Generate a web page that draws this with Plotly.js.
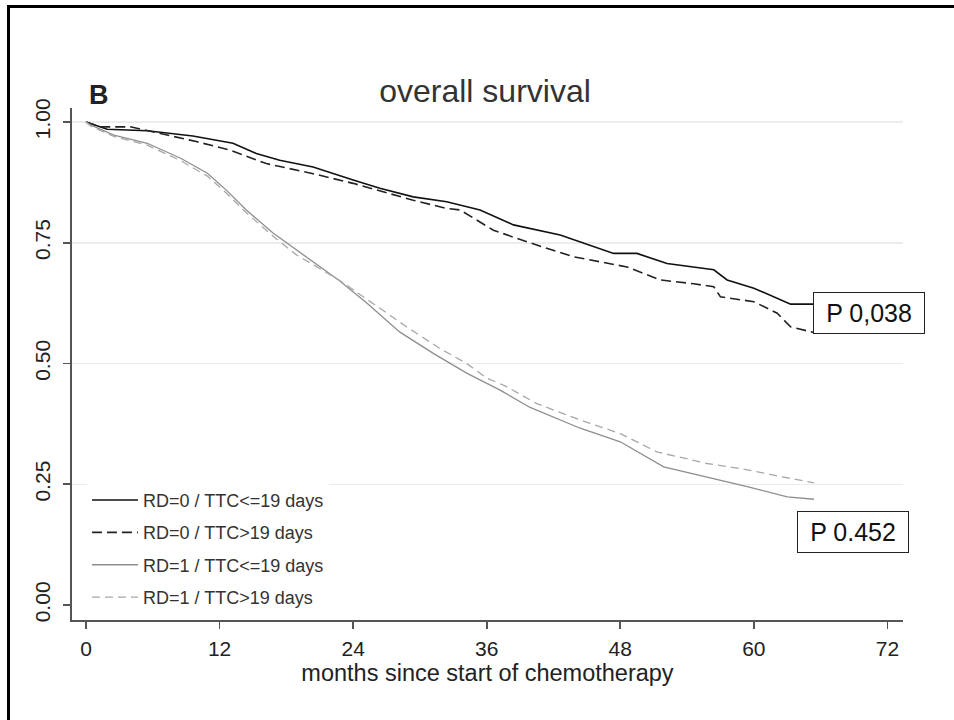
<!DOCTYPE html>
<html>
<head>
<meta charset="utf-8">
<script src="https://cdn.plot.ly/plotly-3.0.1.min.js"></script>
<style>
html,body{margin:0;padding:0;background:#fff;}
#chart{width:954px;height:720px;}
</style>
</head>
<body>
<div id="chart"></div>
<script>
// Series: months since start of chemotherapy vs survival probability
const seriesNames = ["RD=0 / TTC<=19 days", "RD=0 / TTC>19 days", "RD=1 / TTC<=19 days", "RD=1 / TTC>19 days"];

const s1Months = [0, 1.9, 5.5, 9.6, 13.2, 15.3, 17.4, 20.4, 24.0, 26.4, 29.4, 32.4, 35.4, 38.4, 42.6, 47.4, 49.5, 52.2, 56.4, 57.6, 60.0, 62.4, 63.3, 65.4];
const s1Surv   = [1.0, 0.985, 0.982, 0.971, 0.956, 0.935, 0.921, 0.907, 0.880, 0.863, 0.845, 0.835, 0.818, 0.787, 0.766, 0.728, 0.728, 0.707, 0.694, 0.673, 0.656, 0.631, 0.623, 0.623];

const s2Months = [0, 1.3, 4.0, 10.0, 12.9, 16.2, 20.4, 24.0, 29.4, 32.4, 33.6, 36.6, 39.6, 43.8, 48.6, 51.6, 54.6, 56.4, 57.0, 60.0, 62.1, 63.3, 65.4];
const s2Surv   = [1.0, 0.99, 0.99, 0.959, 0.942, 0.914, 0.893, 0.873, 0.838, 0.821, 0.818, 0.776, 0.752, 0.721, 0.700, 0.673, 0.665, 0.659, 0.638, 0.628, 0.604, 0.576, 0.564];

const s3Months = [0, 0.4, 2.5, 5.5, 8.5, 10.9, 12.6, 14.4, 16.8, 19.5, 22.8, 25.2, 28.2, 31.2, 34.2, 37.2, 39.9, 44.4, 48.0, 51.9, 56.4, 59.4, 63.0, 65.4];
const s3Surv   = [1.0, 0.994, 0.973, 0.956, 0.925, 0.894, 0.859, 0.818, 0.770, 0.725, 0.671, 0.626, 0.565, 0.521, 0.480, 0.445, 0.409, 0.366, 0.338, 0.286, 0.262, 0.245, 0.224, 0.219];

const s4Months = [0, 0.4, 2.5, 5.5, 8.5, 10.9, 12.6, 14.4, 17.1, 18.9, 22.8, 25.5, 28.8, 31.8, 34.2, 36.0, 37.8, 40.5, 44.4, 48.0, 51.3, 55.8, 59.4, 62.4, 65.4];
const s4Surv   = [1.0, 0.992, 0.970, 0.952, 0.920, 0.888, 0.853, 0.812, 0.758, 0.725, 0.672, 0.628, 0.576, 0.531, 0.500, 0.470, 0.452, 0.417, 0.383, 0.355, 0.317, 0.293, 0.280, 0.266, 0.253];

const xTickVals = [0, 12, 24, 36, 48, 60, 72];
const xTickText = ["0", "12", "24", "36", "48", "60", "72"];
const yTickVals = [0, 0.25, 0.5, 0.75, 1.0];
const yTickText = ["0.00", "0.25", "0.50", "0.75", "1.00"];

const pLabels = ["P 0,038", "P 0.452"];
const pPos = [[70.3, 0.605], [68.9, 0.151]];

const font = "'Liberation Sans', Arial, Helvetica, sans-serif";

const traces = [
  {x: s1Months, y: s1Surv, name: seriesNames[0], legendgroup: "g1", mode: "lines",
   line: {color: "#111111", width: 1.6, dash: "solid"}},
  {x: s2Months, y: s2Surv, name: seriesNames[1], legendgroup: "g2", mode: "lines",
   line: {color: "#222222", width: 1.6, dash: "10px,5px"}},
  {x: s3Months, y: s3Surv, name: seriesNames[2], legendgroup: "g3", mode: "lines",
   line: {color: "#8e8e8e", width: 1.3, dash: "solid"}},
  {x: s4Months, y: s4Surv, name: seriesNames[3], legendgroup: "g4", mode: "lines",
   line: {color: "#a8a8a8", width: 1.3, dash: "8px,5px"}}
];

const layout = {
  width: 954, height: 720,
  paper_bgcolor: "#ffffff", plot_bgcolor: "#ffffff",
  margin: {l: 72, r: 51, t: 108, b: 100, pad: 0},
  showlegend: true,
  title: {text: "overall survival", font: {family: font, size: 32, color: "#333333"},
          x: (485 - 72) / 831, xanchor: "center", y: 1 - 91 / 720, yanchor: "middle", xref: "paper"},
  xaxis: {
    range: [-1.26, 73.4], tickvals: xTickVals, ticktext: xTickText,
    showgrid: false, zeroline: false, showline: true, linecolor: "#555555", linewidth: 1.6,
    ticks: "outside", ticklen: 7, tickwidth: 1.6, tickcolor: "#555555",
    tickfont: {family: font, size: 21, color: "#222222"}, ticklabelstandoff: 2,
    title: {text: "months since start of chemotherapy", font: {family: font, size: 23.5, color: "#222222"}, standoff: 0},
    fixedrange: true
  },
  yaxis: {
    range: [-0.031, 1.029], tickvals: yTickVals, ticktext: yTickText, tickangle: -90,
    showgrid: true, gridcolor: "#ececec", gridwidth: 1.5,
    zeroline: true, zerolinecolor: "rgba(0,0,0,0)",
    showline: true, linecolor: "#555555", linewidth: 1.6,
    ticks: "outside", ticklen: 7, tickwidth: 1.6, tickcolor: "#555555",
    tickfont: {family: font, size: 21, color: "#222222"}, ticklabelstandoff: 5,
    fixedrange: true
  },
  legend: {
    x: 0.018, xanchor: "left", y: 0.27, yanchor: "top",
    bgcolor: "#ffffff", borderwidth: 0,
    font: {family: font, size: 18, color: "#333333"},
    tracegroupgap: 6, itemwidth: 46
  },
  annotations: [
    {text: "<b>B</b>", xref: "paper", yref: "paper", x: (99 - 72) / 831, y: (620 - 94.5) / 512,
     xanchor: "center", yanchor: "middle", showarrow: false,
     font: {family: font, size: 27, color: "#222222"}},
    {text: pLabels[0], xref: "x", yref: "y", x: pPos[0][0], y: pPos[0][1],
     xanchor: "center", yanchor: "middle", showarrow: false, width: 108, height: 38, align: "center",
     font: {family: font, size: 25, color: "#111111"},
     bgcolor: "#ffffff", bordercolor: "#222222", borderwidth: 1, borderpad: 1},
    {text: pLabels[1], xref: "x", yref: "y", x: pPos[1][0], y: pPos[1][1],
     xanchor: "center", yanchor: "middle", showarrow: false, width: 108, height: 38, align: "center",
     font: {family: font, size: 25, color: "#111111"},
     bgcolor: "#ffffff", bordercolor: "#222222", borderwidth: 1, borderpad: 1}
  ],
  shapes: [
    {type: "line", xref: "paper", yref: "paper", x0: (8.5 - 72) / 831, x1: (8.5 - 72) / 831,
     y0: (620 - 6) / 512, y1: (620 - 722) / 512, line: {color: "#000000", width: 3}},
    {type: "line", xref: "paper", yref: "paper", x0: (7 - 72) / 831, x1: (956 - 72) / 831,
     y0: (620 - 6.5) / 512, y1: (620 - 6.5) / 512, line: {color: "#000000", width: 3}}
  ]
};

Plotly.newPlot("chart", traces, layout, {displayModeBar: false, staticPlot: true});
</script>
</body>
</html>
